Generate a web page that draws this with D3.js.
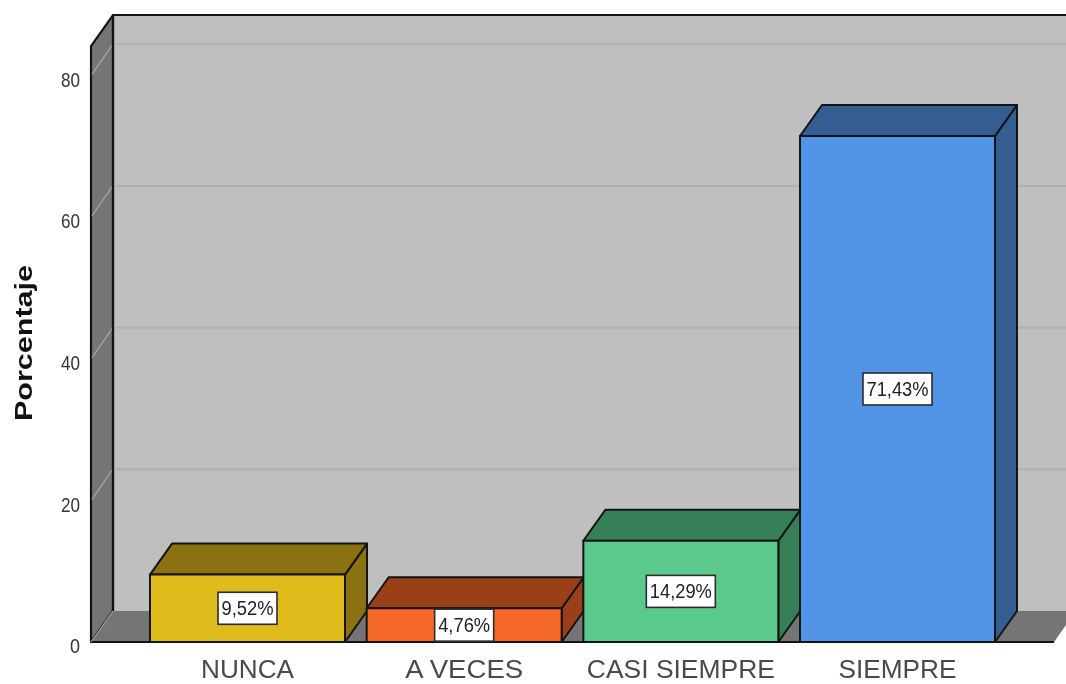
<!DOCTYPE html>
<html><head><meta charset="utf-8">
<script src="https://cdn.jsdelivr.net/npm/d3@7"></script>
<style>html,body{margin:0;padding:0;background:#fff;overflow:hidden}svg{display:block;filter:blur(0.5px)}text{font-family:"Liberation Sans",Arial,sans-serif}</style>
</head><body><svg id="c" width="1066" height="684"></svg>
<script>
const categories = ["NUNCA","A VECES","CASI SIEMPRE","SIEMPRE"];
const values = [9.52,4.76,14.29,71.43];
const valueLabels = ["9,52%","4,76%","14,29%","71,43%"];
const frontColors = ["#e0bb1c","#f6682a","#5cc98c","#5294e5"];
const topColors = ["#8a7210","#9a4018","#377f56","#345d91"];
const yTicks = [0,20,40,60,80];
const yTitle = "Porcentaje";

const dx = 22, dy = -31, floorY = 642, leftX = 91, rightX = 1054;
const svg = d3.select("#c");
const y = d3.scaleLinear().domain([0,84.13]).range([floorY,floorY-84.13*7.084]);
const x = d3.scaleBand().domain(categories).range([150,995]).paddingInner(0.1).paddingOuter(0);
const stroke = "#141414";
const poly = (pts,fill,sw=2) => svg.append("polygon").attr("points",pts.map(p=>p.join(",")).join(" "))
  .attr("fill",fill).attr("stroke",stroke).attr("stroke-width",sw).attr("stroke-linejoin","round");

// walls
const wallY = y.range()[1];
svg.append("rect").attr("x",leftX+dx).attr("y",wallY+dy).attr("width",rightX-leftX+dx).attr("height",floorY-wallY).attr("fill","#bfbfbf");
svg.append("line").attr("x1",leftX+dx).attr("x2",1066).attr("y1",wallY+dy).attr("y2",wallY+dy).attr("stroke",stroke).attr("stroke-width",2.2);
poly([[leftX,wallY],[leftX+dx,wallY+dy],[leftX+dx,floorY+dy],[leftX,floorY]],"#757575",2.2);
// gridlines
yTicks.filter(d=>d>0).forEach(d=>{
  svg.append("line").attr("x1",leftX+dx).attr("x2",1066).attr("y1",y(d)+dy).attr("y2",y(d)+dy).attr("stroke","#b1b1b1").attr("stroke-width",2);
  svg.append("line").attr("x1",leftX+1).attr("x2",leftX+dx-1).attr("y1",y(d)-1).attr("y2",y(d)+dy+1).attr("stroke","#a2a2a2").attr("stroke-width",1.4);
});
// floor
svg.append("polygon").attr("points",[[leftX,floorY],[leftX+dx,floorY+dy],[rightX+dx,floorY+dy],[rightX,floorY]].map(p=>p.join(",")).join(" ")).attr("fill","#757575");
svg.append("line").attr("x1",leftX+dx).attr("x2",leftX+dx).attr("y1",wallY+dy).attr("y2",floorY+dy).attr("stroke",stroke).attr("stroke-width",2.2);
svg.append("line").attr("x1",leftX).attr("x2",rightX).attr("y1",floorY).attr("y2",floorY).attr("stroke",stroke).attr("stroke-width",2.2);
svg.append("line").attr("x1",leftX).attr("x2",leftX+dx).attr("y1",floorY).attr("y2",floorY+dy).attr("stroke","#a2a2a2").attr("stroke-width",1.2);

// bars
categories.forEach((c,i)=>{
  const l=x(c), r=l+x.bandwidth(), t=y(values[i]), b=y(0);
  poly([[r,t],[r+dx,t+dy],[r+dx,b+dy],[r,b]],topColors[i]);
  poly([[l,t],[l+dx,t+dy],[r+dx,t+dy],[r,t]],topColors[i]);
  poly([[l,t],[r,t],[r,b],[l,b]],frontColors[i]);
});
// labels
categories.forEach((c,i)=>{
  const cx=x(c)+x.bandwidth()/2, cy=y(values[i]/2);
  const g=svg.append("g");
  const tx=g.append("text").attr("x",cx).attr("y",cy+7).attr("text-anchor","middle").attr("font-size",20).attr("fill","#222").text(valueLabels[i]);
  tx.attr("textLength",i<2?52:62).attr("lengthAdjust","spacingAndGlyphs");
  const w=(i<2?52:62)+7, h=32;
  g.insert("rect","text").attr("x",cx-w/2).attr("y",cy-h/2).attr("width",w).attr("height",h).attr("fill","#fff").attr("stroke","#2c2c2c").attr("stroke-width",1.6);
});
// axes
const ay=svg.append("g").attr("transform",`translate(${leftX-11},2)`).call(d3.axisLeft(y).tickValues(yTicks).tickSize(0).tickPadding(0));
ay.select(".domain").remove();
ay.selectAll("text").attr("font-size",21).attr("fill","#333").attr("font-family","Liberation Sans").attr("textLength",d=>d===0?10:19).attr("lengthAdjust","spacingAndGlyphs").attr("dy","0.42em");
const ax=svg.append("g").attr("transform",`translate(0,${floorY})`).call(d3.axisBottom(x).tickSize(0).tickPadding(18));
ax.select(".domain").remove();
const widths=[93,118,188,118];
ax.selectAll("text").attr("font-size",25).attr("fill","#4a4a4a").attr("font-family","Liberation Sans")
  .attr("textLength",(d,i)=>widths[i]).attr("lengthAdjust","spacingAndGlyphs");
svg.append("text").attr("transform","translate(32,343) rotate(-90)").attr("text-anchor","middle")
  .attr("font-size",24).attr("font-weight","bold").attr("fill","#111").attr("textLength",156).attr("lengthAdjust","spacingAndGlyphs").text(yTitle);
</script></body></html>
